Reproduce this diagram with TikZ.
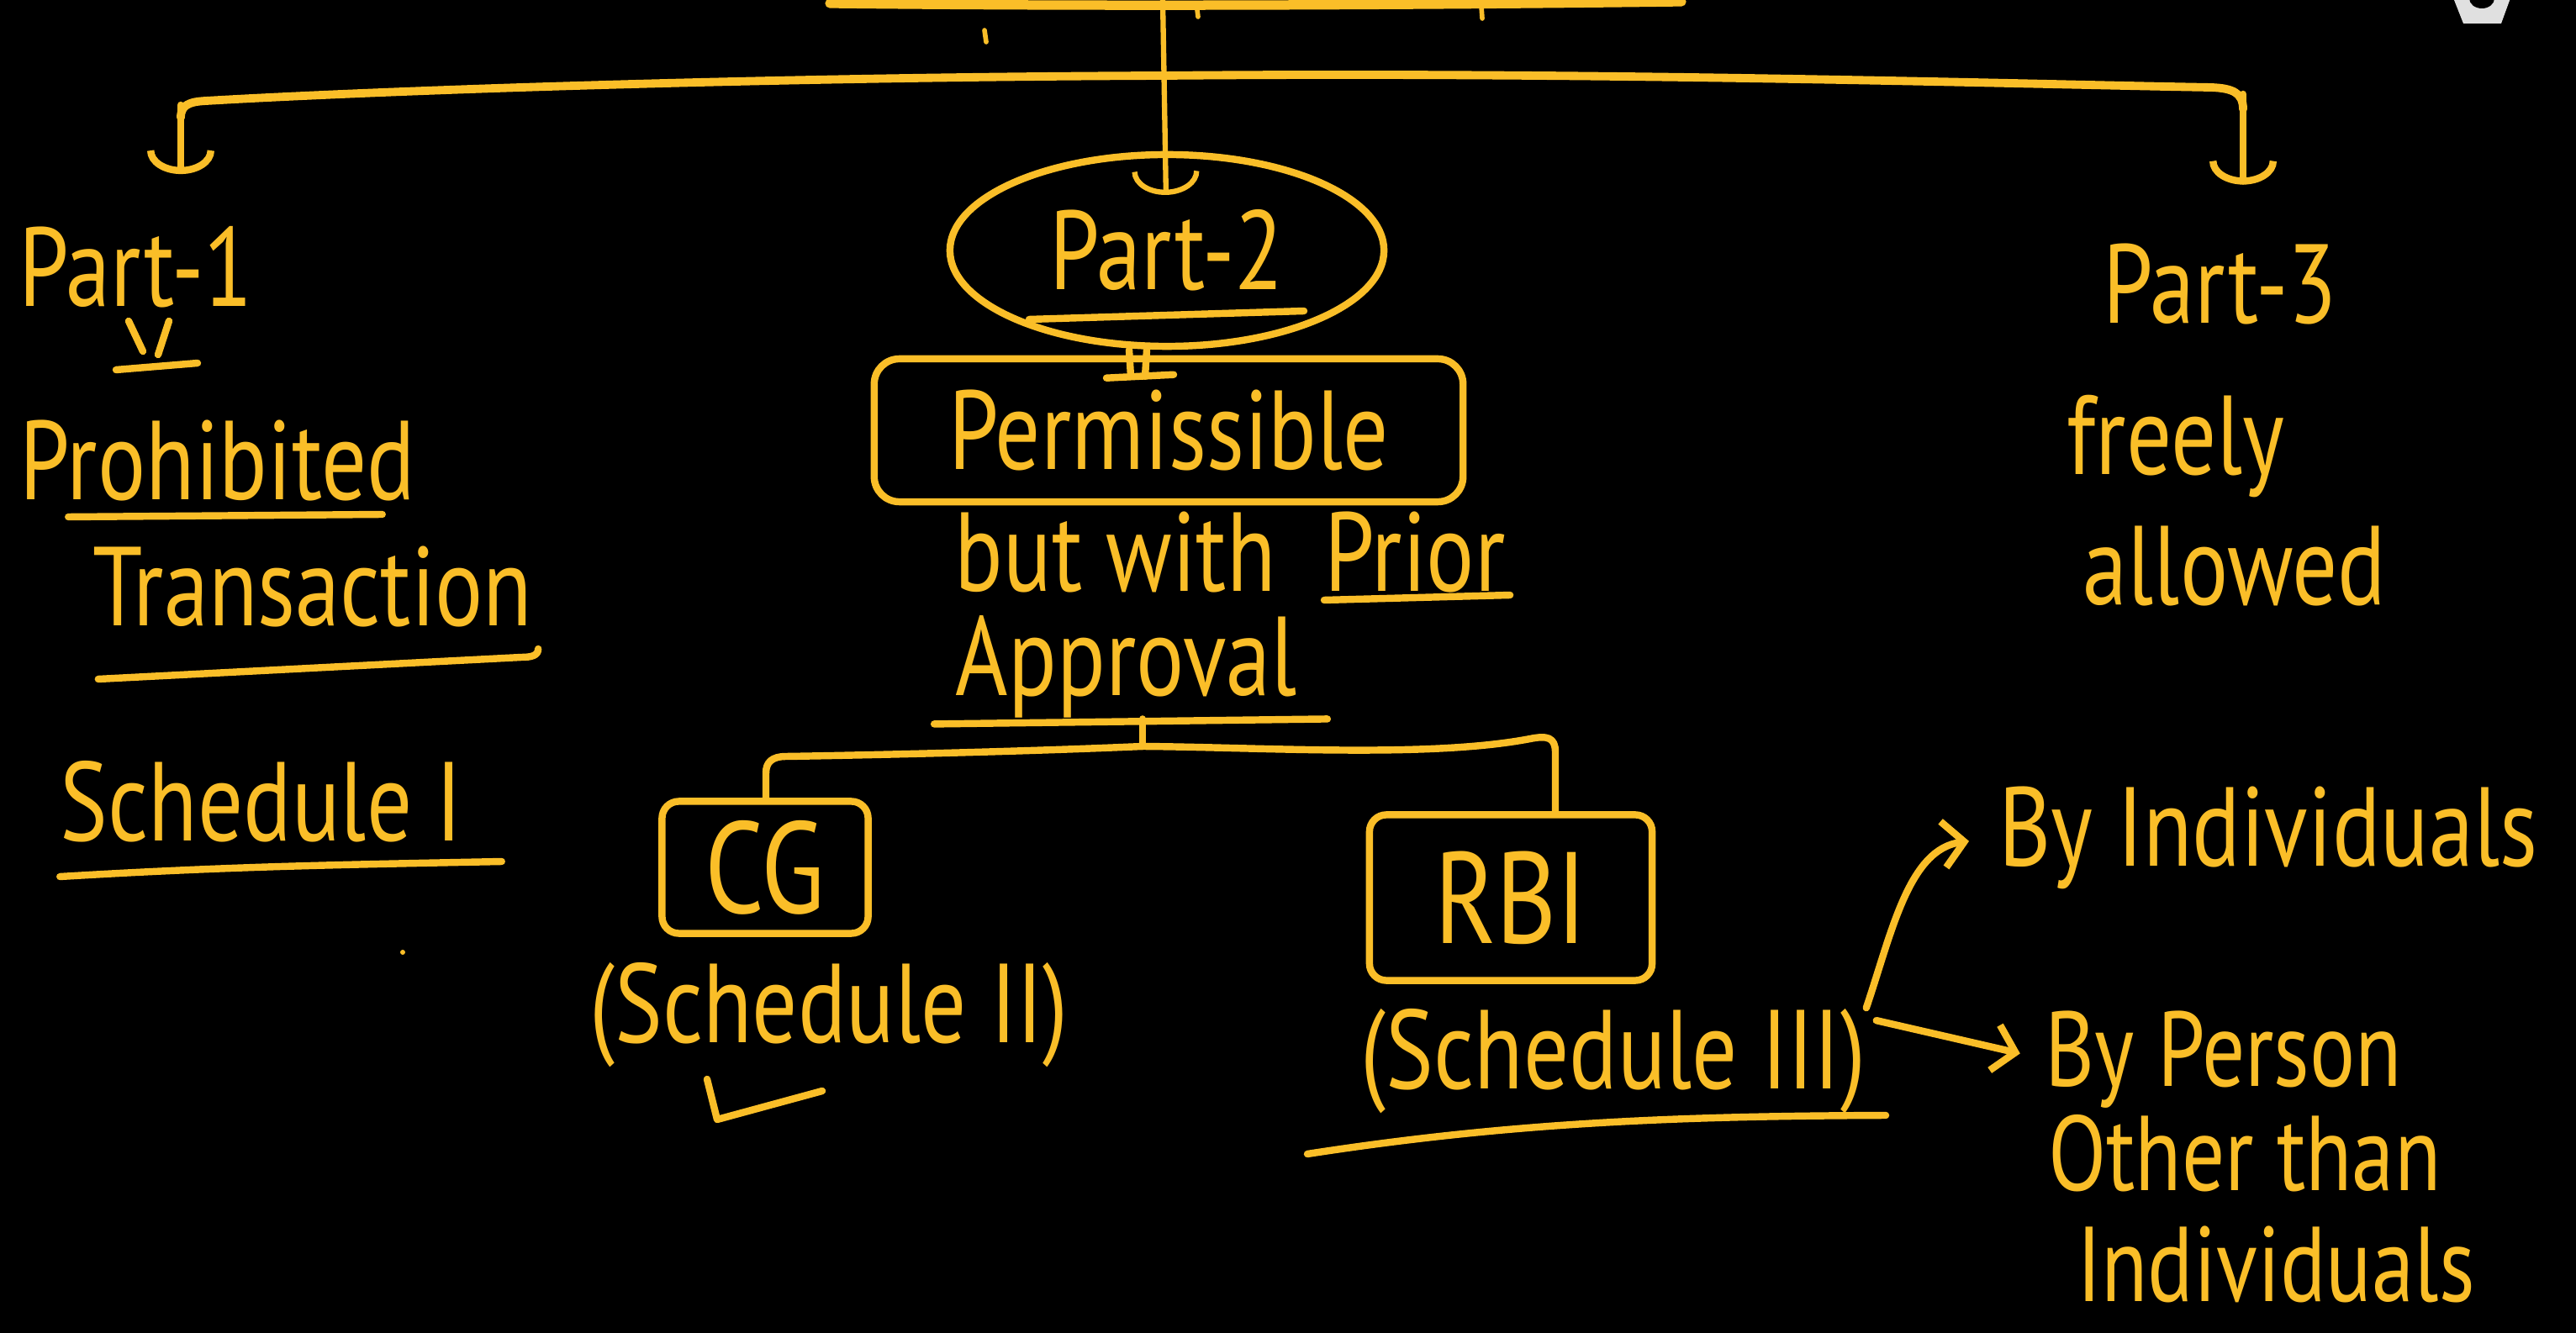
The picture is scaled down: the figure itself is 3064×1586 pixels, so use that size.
\documentclass[tikz,border=0pt]{standalone}
\usepackage{fontspec}
\setmainfont{PT Sans}[FakeStretch=0.8]
\usetikzlibrary{arrows.meta,calc,shapes.geometric}
\definecolor{yel}{RGB}{250,190,40}
\begin{document}
\begin{tikzpicture}[x=0.01cm,y=-0.01cm,
  fnt/.style={font=\fontsize{38}{44}\selectfont, text=yel},
  fntbig/.style={font=\fontsize{44}{50}\selectfont, text=yel},
  fntsm/.style={font=\fontsize{36}{42}\selectfont, text=yel},
  lbl/.style={fnt, inner sep=0pt, anchor=base},
  lblsm/.style={lbl, fntsm},
  ln/.style={draw=yel, line width=2.4pt, line cap=round, line join=round},
  brk/.style={ln, line width=2.8pt},
  tipdown/.style={-{Arc Barb[length=0.28cm,width=0.8cm]}},
  arrR/.style={-{Straight Barb[length=0.25cm,width=0.55cm]}},
  ell/.style={ellipse, draw=yel, line width=2.4pt, fnt, inner sep=0pt,
    minimum width=5.16cm, minimum height=2.28cm},
  bigbox/.style={draw=yel, line width=2.4pt, rounded corners=0.3cm, fnt, inner sep=0pt},
  smallbox/.style={draw=yel, line width=2.4pt, rounded corners=0.2cm, fntbig, inner sep=0pt}]

% background and frame
\fill[black] (0,0) rectangle (3064,1586);
\useasboundingbox (0,0) rectangle (3064,1586);

% cut-off top stroke and marks
\draw[brk, line width=3.2pt] (987,4) .. controls (1300,8) and (1700,6) .. (2000,2);
\draw[ln, line width=1.6pt] (1171,36) -- (1173,50);
\draw[ln, line width=1.6pt] (1423,4) -- (1425,20);
\draw[ln, line width=1.6pt] (1762,8) -- (1763,22);
\fill[yel] (479,1133) circle (0.03cm);

% white icon at top right
\fill[white!88!black] (2917,-5) -- (2987,-5) -- (2975,28) -- (2930,28) -- cycle;
\fill[black] (2952,-2) ellipse (0.15cm and 0.12cm);

% ---------- nodes ----------
\node[lbl, anchor=base west] (p1) at (22,365) {Part-1};
\node[lbl] (proh) at (259,595) {Prohibited};
\node[lbl] (trans) at (372,745) {Transaction};
\node[lbl] (sch1) at (311,1000) {Schedule I};

\node[ell] (p2) at (1388,298) {Part-2};
\node[bigbox, minimum width=7cm, minimum height=1.7cm] (perm) at (1390,512) {Permissible};
\node[lbl, anchor=base west] (bw) at (1135,704) {but with};
\node[lbl, anchor=base west] (prior) at (1575,704) {Prior};
\node[lbl] (appr) at (1340,828) {Approval};

\node[smallbox, minimum width=2.45cm, minimum height=1.57cm] (cg) at (910,1032) {CG};
\node[lbl] (s2) at (986,1240) {(Schedule II)};
\node[smallbox, minimum width=3.36cm, minimum height=1.97cm] (rbi) at (1797,1068) {RBI};
\node[lbl] (s3) at (1919,1295) {(Schedule III)};

\node[lbl] (byind) at (2698,1030) {By Individuals};
\node[lblsm] (byp1) at (2645,1292) {By Person};
\node[lblsm] (byp2) at (2670,1416) {Other than};
\node[lblsm] (byp3) at (2707,1548) {Individuals};

\node[lbl] (p3) at (2641,385) {Part-3};
\node[lbl] (fr) at (2588,565) {freely};
\node[lbl] (al) at (2658,720) {allowed};

% ---------- main bracket ----------
\coordinate (root) at (1383,0);
\coordinate (hub) at (1383,90);
\coordinate (lc) at (215,125);
\coordinate (rc) at (2668,112);
\draw[ln, line width=1.8pt, tipdown, shorten >=0.66cm] (root) -- (p2.center);
\draw[brk] (hub) .. controls (900,92) and (450,108) .. (245,120)
  .. controls (225,121) and (215,125) .. (215,140);
\draw[brk] (hub) .. controls (1900,85) and (2400,100) .. (2630,104)
  .. controls (2655,105) and (2668,110) .. (2668,130);
\draw[ln, tipdown, shorten >=0.62cm] (lc) -- (p1.north -| lc);
\draw[ln, tipdown, shorten >=0.7cm] (rc) -- (p3.north -| rc);

% ---------- left column marks ----------
\draw[ln] (153,382) -- (170,418);
\draw[ln] (201,382) -- (188,422);
\draw[ln] (138,440) -- (235,432);
\draw[ln] ($(proh.base west)+(58,20)$) -- ($(proh.base east)+(-40,17)$);
\draw[ln] ($(trans.base west)+(7,63)$) -- ($(trans.base east)+(-14,37)$)
  .. controls +(12,0) and +(0,8) .. ++(20,-10);
\draw[ln] ($(sch1.base west)+(0,43)$) .. controls +(200,-12) and +(-200,4) .. ($(sch1.base east)+(46,25)$);

% ---------- middle column ----------
\draw[ln] ($(p2.center)+(-164,82)$) -- ($(p2.center)+(163,72)$);
\draw[ln] ($(p2.south)+(-45,0)$) -- ($(perm.north)+(-45,25)$);
\draw[ln] ($(p2.south)+(-24,0)$) -- ($(perm.north)+(-28,25)$);
\draw[ln] ($(perm.north)+(-74,27)$) -- ($(perm.north)+(6,23)$);
\draw[ln] ($(prior.base west)+(0,10)$) -- ($(prior.base east)+(5,4)$);
\draw[ln] ($(appr.south west)+(-25,6)$) -- ($(appr.south east)+(35,0)$);

% sub-bracket
\coordinate (sb) at (1359,888);
\coordinate (lc2) at (911,900);
\coordinate (rc2) at (1850,875);
\draw[ln] (appr.south -| sb) -- (sb);
\draw[ln] (sb) .. controls (1200,895) and (1000,899) .. (935,900)
  .. controls (918,900) and (911,907) .. (911,920) -- (cg.north -| lc2);
\draw[ln] (sb) .. controls (1500,889) and (1700,902) .. (1820,879)
  .. controls (1840,875) and (1850,877) .. (1850,895) -- (rbi.north -| rc2);

% marks under schedules
\draw[ln] (841,1284) -- (853,1332) -- (978,1298);
\draw[ln] (1555,1373) .. controls (1800,1335) and (2000,1328) .. (2243,1327);

% arrows to categories
\draw[ln, arrR, shorten >=0.35cm] (s3.north east) .. controls (2250,1110) and (2270,1010) .. (byind.west);
\draw[ln, arrR, shorten >=0.3cm] ($(s3.north east)+(12,15)$) -- (byp1.west);
\end{tikzpicture}
\end{document}
